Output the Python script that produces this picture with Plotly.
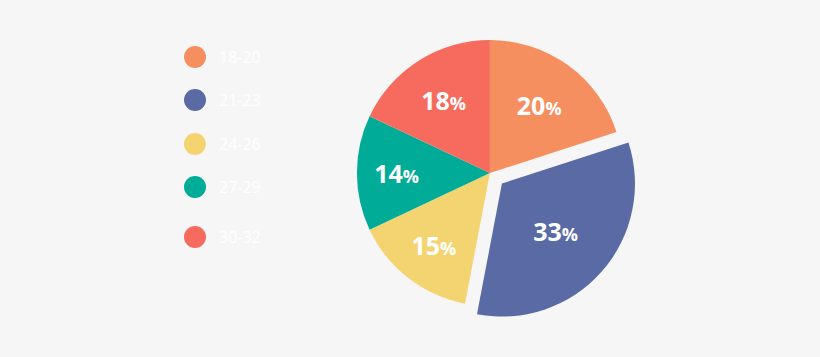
import plotly.graph_objects as go

categories = ["18-20", "21-23", "24-26", "27-29", "30-32"]
values = [20, 33, 15, 14, 18]
colors = ["#f68f5f", "#5a6aa4", "#f4d471", "#00ac97", "#f76b5e"]
pulls = [0, 0.12, 0, 0, 0]

W, H = 820, 357
legend_y_px = [57, 100, 144, 187, 237]
legend_x_px = 195
legend_r_px = 11

fig = go.Figure()
fig.add_trace(go.Pie(
    labels=categories,
    values=values,
    marker=dict(colors=colors, line=dict(width=0)),
    pull=pulls,
    sort=False,
    direction="clockwise",
    rotation=0,
    textinfo="text",
    texttemplate="<b>%{value}</b><span style='font-size:18px'><b>%</b></span>",
    textposition="inside",
    insidetextorientation="horizontal",
    insidetextfont=dict(family="Open Sans", size=25, color="white"),
    hoverinfo="skip",
    showlegend=False,
    domain=dict(x=[0.36, 0.835], y=[1 - 322 / H, 1 - 24 / H]),
))

shapes = []
annotations = []
for cat, col, ypx in zip(categories, colors, legend_y_px):
    shapes.append(dict(
        type="circle", xref="paper", yref="paper",
        x0=(legend_x_px - legend_r_px) / W, x1=(legend_x_px + legend_r_px) / W,
        y0=1 - (ypx + legend_r_px) / H, y1=1 - (ypx - legend_r_px) / H,
        fillcolor=col, line=dict(width=0),
    ))
    annotations.append(dict(
        text=cat, xref="paper", yref="paper",
        x=217 / W, y=1 - ypx / H, xanchor="left", yanchor="middle",
        showarrow=False, font=dict(family="Open Sans", size=16, color="white"),
    ))

fig.update_layout(
    width=W, height=H,
    margin=dict(l=0, r=0, t=0, b=0),
    paper_bgcolor="#f6f6f6",
    plot_bgcolor="#f6f6f6",
    shapes=shapes,
    annotations=annotations,
)

fig.write_html(
    "out.html",
    config={"displayModeBar": False},
    post_script="document.body.style.margin='0';document.body.style.background='#f6f6f6';",
)
